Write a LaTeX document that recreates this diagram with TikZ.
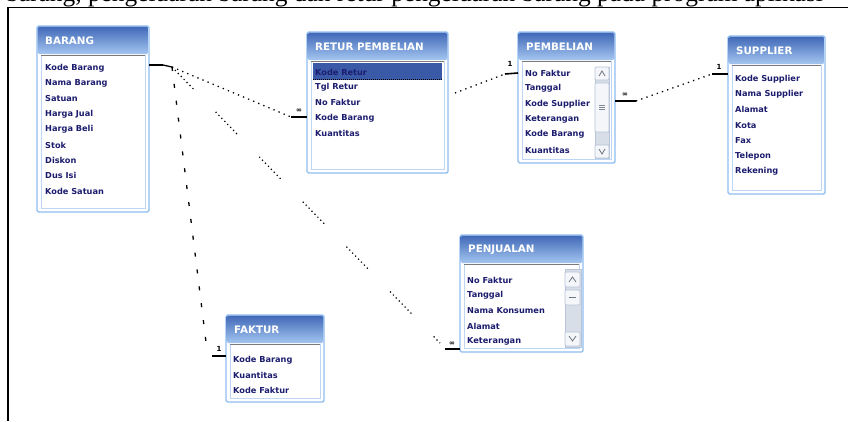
\documentclass[tikz,border=0pt]{standalone}
\usepackage{fontspec}
\setmainfont{Liberation Serif}
\newfontfamily\dvs{DejaVu Sans}
\definecolor{boxblue}{HTML}{8FBDF0}
\definecolor{ttop}{HTML}{4169B8}
\definecolor{tbot}{HTML}{A4C6F0}
\definecolor{sepgray}{HTML}{7A7A7A}
\definecolor{innerblue}{HTML}{BDD6F4}
\definecolor{fldcol}{HTML}{1C1C6E}
\definecolor{hilite}{HTML}{3A5AA8}
\definecolor{sbgray}{HTML}{D8DEE8}
\definecolor{sbbox}{HTML}{B8C4D8}
\tikzset{
  tblbox/.style={draw=boxblue, line width=1.4pt, fill=white, rounded corners=1.5pt, inner sep=0pt, outer sep=0pt},
  tbltitle/.style={text=white, font=\dvs\bfseries\fontsize{10.3}{11}\selectfont, inner sep=0pt},
  fld/.style={text=fldcol, font=\dvs\bfseries\fontsize{8.2}{9}\selectfont, inner sep=0pt},
  reldot/.style={line width=1.3pt, dash pattern=on 1.3pt off 4.2pt},
  reldash/.style={line width=1.3pt, dash pattern=on 4pt off 13pt},
  relcluster/.style={line width=1.2pt, dash pattern=on 1.2pt off 3pt on 1.2pt off 3pt on 1.2pt off 3pt on 1.2pt off 3pt on 1.2pt off 3pt on 1.2pt off 3pt on 1.2pt off 3pt on 1.2pt off 32pt},
  stub/.style={line width=1.6pt},
  card/.style={font=\dvs\bfseries\fontsize{7}{7}\selectfont, inner sep=0pt},
  sbar/.style={fill=sbgray, draw=sbbox, line width=0.6pt},
  sbtn/.style={fill=white!85!sbbox, draw=sbbox, line width=0.8pt, rounded corners=1pt},
}
\newcommand{\dbtbl}[6]{%
  \node[tblbox, anchor=north west, minimum width={(#4-#2)*1pt}, minimum height={(#5-#3)*1pt}] (#1) at (#2,#3) {};
  \shade[top color=ttop, bottom color=tbot, rounded corners=1.5pt] ([shift={(0.7,0.7)}]#1.north west) rectangle ([shift={(-0.7,28)}]#1.north east);
  \draw[innerblue, line width=0.7pt] ([shift={(4,29)}]#1.north west) rectangle ([shift={(-4,-4)}]#1.south east);
  \draw[sepgray, line width=1.3pt] ([shift={(4,29.5)}]#1.north west) -- ([shift={(-4,29.5)}]#1.north east);
  \node[tbltitle, anchor=west] (#1-title) at ([shift={(8,15)}]#1.north west) {#6};
}
\newcommand{\dbfields}[4]{%
  \foreach \t [count=\i] in {#4} {\node[fld, anchor=west] (#1-f\i) at (#2, {#3+(\i-1)*15.4}) {\t};}
}
\begin{document}
\begin{tikzpicture}[x=1pt,y=-1pt]
\useasboundingbox (0,0) rectangle (848,421);
% caption cut off at top
\node[anchor=base west, inner sep=0pt, font=\fontsize{25.4}{26}\selectfont] (cap) at (6,1.5)
  {barang, pengeluaran barang dan retur pengeluaran barang pada program aplikasi};
% frame
\draw[line width=1.6pt] (8,421) -- (8,7.5) -- (848,7.5);

% tables
\dbtbl{brg}{37}{26}{149}{212}{BARANG}
\dbfields{brg}{45}{68}{Kode Barang,Nama Barang,Satuan,Harga Jual,Harga Beli,Stok,Diskon,Dus Isi,Kode Satuan}

\dbtbl{ret}{307}{32}{448}{173}{RETUR PEMBELIAN}
\fill[hilite] (313,63) rectangle (442,80);
\draw[black, line width=0.6pt, dash pattern=on 1pt off 1pt] (313,79.5) -- (442,79.5);
\dbfields{ret}{315}{72}{Kode Retur,Tgl Retur,No Faktur,Kode Barang,Kuantitas}

\dbtbl{pbl}{518}{32}{615}{163}{PEMBELIAN}
\dbfields{pbl}{525}{73}{No Faktur,Tanggal,Kode Supplier,Keterangan,Kode Barang,Kuantitas}
\fill[sbar] (595,67) rectangle (609,158);
\draw[sbtn] (595,67) rectangle (609,80);
\draw[sbtn] (595,83) rectangle (609,132);
\draw[sbtn] (595,145) rectangle (609,158);
\draw[sbbox!70!black, line width=0.6pt] (599,105) -- (605,105) (599,107) -- (605,107) (599,109) -- (605,109);
\draw[sbbox!60!black, line width=0.8pt] (599,76) -- (602,71) -- (605,76);
\draw[sbbox!60!black, line width=0.8pt] (599,149) -- (602,154) -- (605,149);

\dbtbl{sup}{728}{36}{825}{194}{SUPPLIER}
\dbfields{sup}{735}{79}{Kode Supplier,Nama Supplier,Alamat,Kota,Fax,Telepon,Rekening}

\dbtbl{pjl}{460}{235}{583}{352}{PENJUALAN}
\dbfields{pjl}{467}{280}{No Faktur,Tanggal,Nama Konsumen,Alamat,Keterangan}
\fill[sbar] (565,269) rectangle (581,347);
\draw[sbtn] (565,272) rectangle (580,287);
\draw[sbtn] (565,290) rectangle (580,305);
\draw[sbtn] (565,332) rectangle (580,346);
\draw[sbbox!60!black, line width=0.8pt] (569,282) -- (572.5,277) -- (576,282);
\draw[sbbox!60!black, line width=0.8pt] (569,297.5) -- (576,297.5);
\draw[sbbox!60!black, line width=0.8pt] (569,336) -- (572.5,341) -- (576,336);

\dbtbl{fak}{226}{315}{324}{402}{FAKTUR}
\dbfields{fak}{233}{360}{Kode Barang,Kuantitas,Kode Faktur}

% relationship end points
\coordinate (b0) at (149,65);
\coordinate (b1) at (163,65);
\coordinate (b2) at (172,67);
\coordinate (r1) at (291,117);
\coordinate (r0) at (307,117);
\coordinate (f1) at (207,350);
\coordinate (f2) at (212,356);
\coordinate (f0) at (226,356);
\coordinate (j1) at (440,343);
\coordinate (j2) at (445,349);
\coordinate (j0) at (460,349);
\coordinate (rp1) at (455,93);
\coordinate (rp2) at (505,74);
\coordinate (p0) at (518,73);
\coordinate (ps0) at (615,101);
\coordinate (ps1) at (636,101);
\coordinate (s1) at (712,74);
\coordinate (s0) at (728,74);

% BARANG - RETUR PEMBELIAN
\draw[stub] (b0) -- (b1);
\draw[line width=1.3pt] (b1) -- (b2);
\draw[reldot] (b2) -- (r1);
\draw[stub] (r1) -- (r0);
\node[card] (cr) at (299,110.5) {∞};
% BARANG - FAKTUR
\draw[reldash] (b2) -- (f1);
\draw[stub] (f2) -- (f0);
\node[card] (cf) at (219,349) {1};
% BARANG - PENJUALAN
\draw[relcluster] (b2) -- (j1);
\draw[stub] (j2) -- (j0);
\node[card] (cj) at (452,343.5) {∞};
% RETUR PEMBELIAN - PEMBELIAN
\draw[reldot] (rp1) -- (rp2);
\draw[stub] (rp2) -- (p0);
\node[card] (cp) at (510,64) {1};
% PEMBELIAN - SUPPLIER
\draw[stub] (ps0) -- (ps1);
\node[card] (cps) at (625,94.5) {∞};
\draw[reldot] (ps1) -- (s1);
\draw[stub] (s1) -- (s0);
\node[card] (cs) at (719,67) {1};
\end{tikzpicture}
\end{document}
